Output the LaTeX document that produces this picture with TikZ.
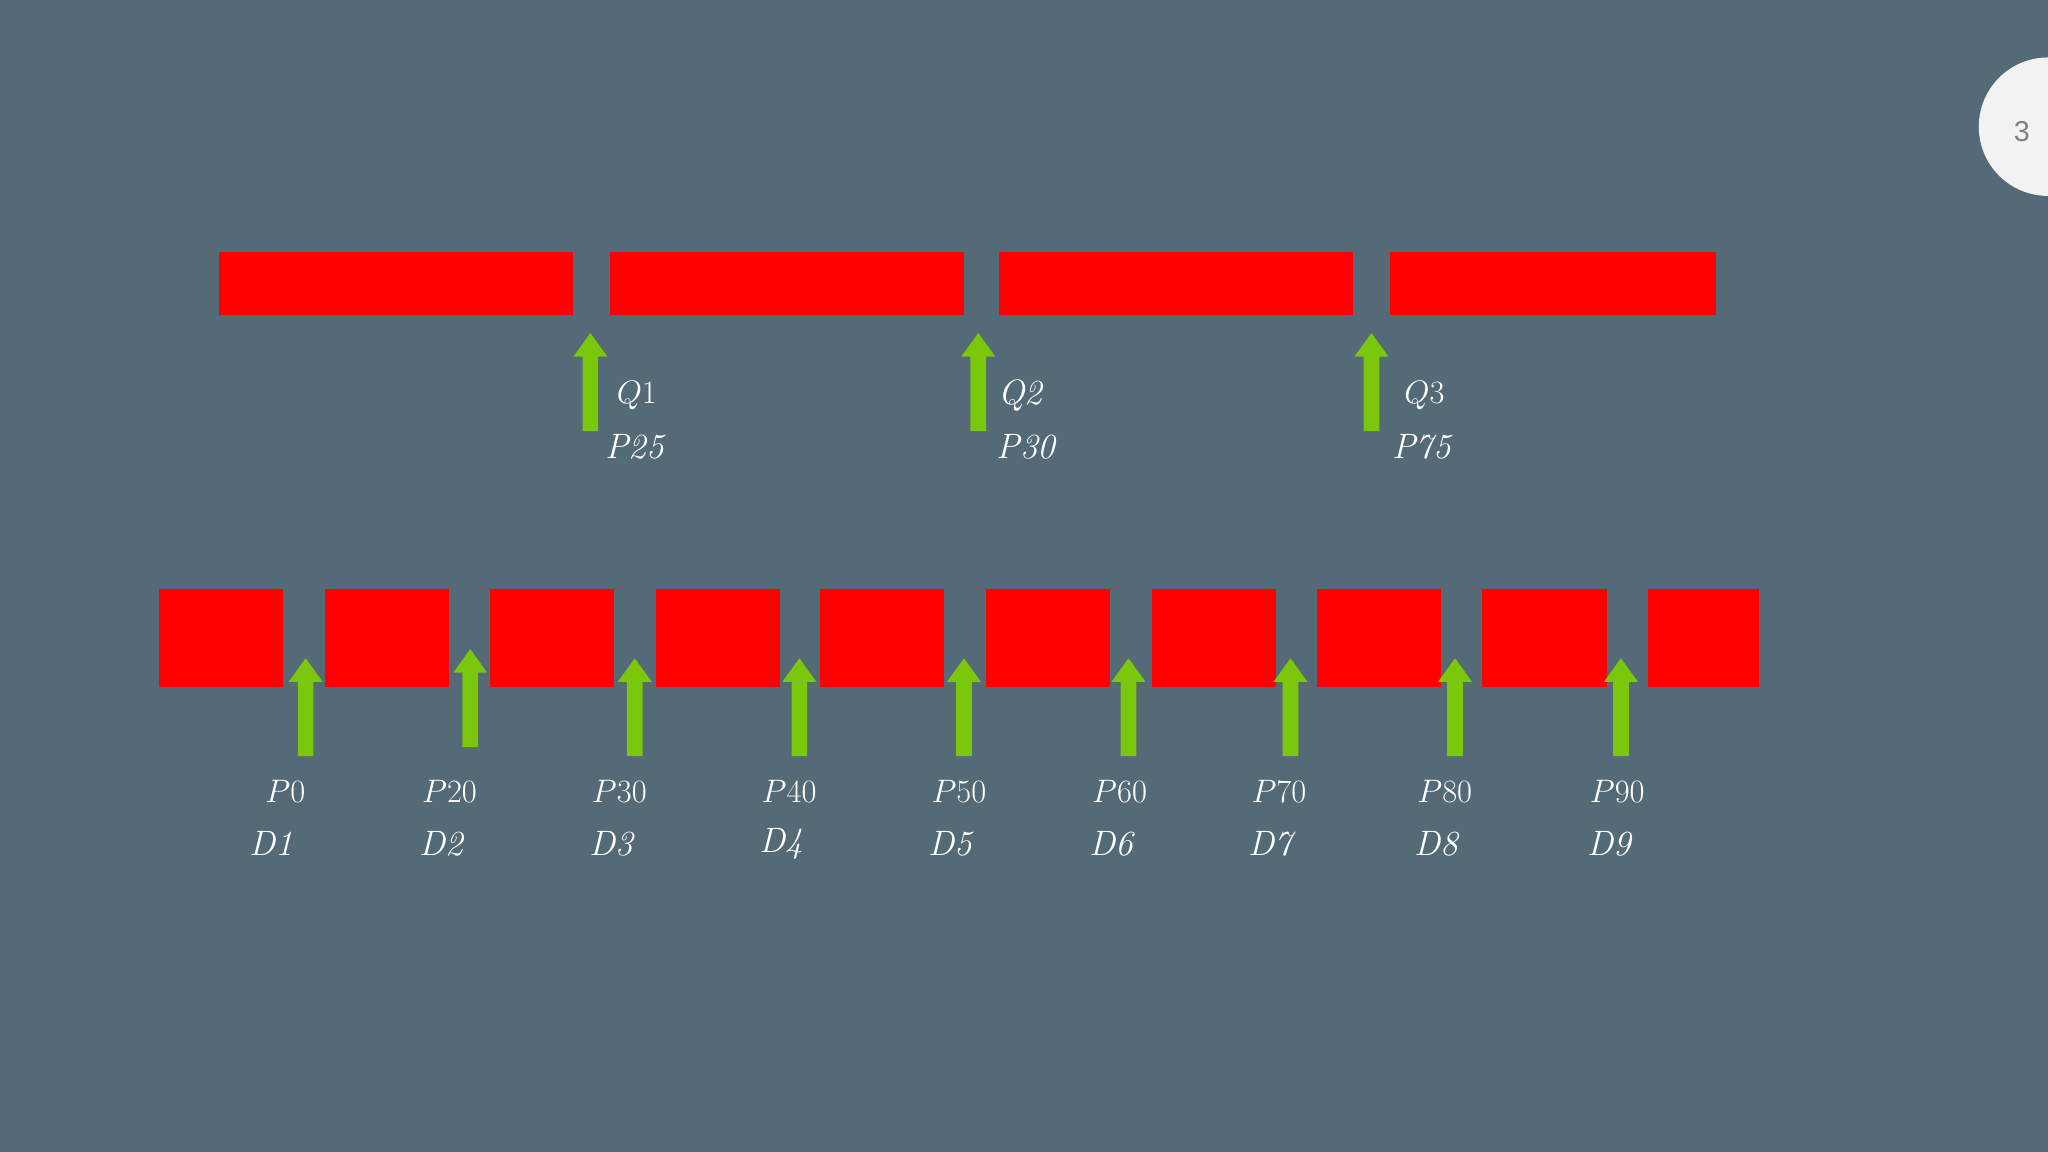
\documentclass[tikz,border=0pt]{standalone}
\usepackage{fontspec}
\newfontfamily\sansf{Liberation Sans}
\definecolor{bg}{HTML}{546A76}
\definecolor{grn}{HTML}{7AC70C}
\begin{document}
\begin{tikzpicture}[x=1pt,y=-1pt,
  bar/.style={fill=red,draw=none},
  upar/.style={fill=grn,draw=none},
  lab/.style={anchor=west,text=white,font=\fontsize{27}{30}\selectfont,inner sep=0pt}]
\useasboundingbox (0,0) rectangle (1568,882);
\fill[bg] (0,0) rectangle (1568,882);
\fill[gray!10] (1568,97) circle (53);
\node[text=gray,font=\sansf\fontsize{22}{24}\selectfont] (pg) at (1548,101) {3};
% top bars
\foreach \a/\b in {168/439,467/738,765/1036,1064/1314}{
  \fill[bar] (\a,193) rectangle (\b,241);}
\newcommand\myuparr[3]{% x, tip y, bottom y
  \fill[upar] (#1-6,#3) -- (#1-6,#2+18) -- (#1-13,#2+18) -- (#1,#2) -- (#1+13,#2+18) -- (#1+6,#2+18) -- (#1+6,#3) -- cycle;}
\myuparr{452}{255}{330}
\myuparr{749}{255}{330}
\myuparr{1050}{255}{330}
\node[lab] (q1) at (472,303) {$Q1$};
\node[lab] (p25) at (463,342) {\textit{P25}};
\node[lab] (q2) at (764,303) {\textit{Q2}};
\node[lab] (p30a) at (763,342) {\textit{P30}};
\node[lab] (q3) at (1075,303) {$Q3$};
\node[lab] (p75) at (1066,342) {\textit{P75}};
% bottom squares
\foreach \a/\b in {122/217,249/344,375/470,502/597,628/723,755/850,882/977,1008/1103,1135/1230,1262/1347}{
  \fill[bar] (\a,451) rectangle (\b,526);}
\foreach \xx/\tp/\bt in {234/504/579,360/497/572,486/504/579,612/504/579,738/504/579,864/504/579,988/504/579,1114/504/579,1241/504/579}{
  \myuparr{\xx}{\tp}{\bt}}
\foreach \px/\dx/\p/\d in {203/191/0/1,323/321/20/2,453/451/30/3,583/581/40/4,713/711/50/5,836/834/60/6,958/956/70/7,1085/1083/80/8,1217/1215/90/9}{
  \node[lab] (p\p) at (\px,606) {$P\p$};
  \node[lab] (d\d) at (\dx,646) {\textit{D\d}};
}
\end{tikzpicture}
\end{document}
